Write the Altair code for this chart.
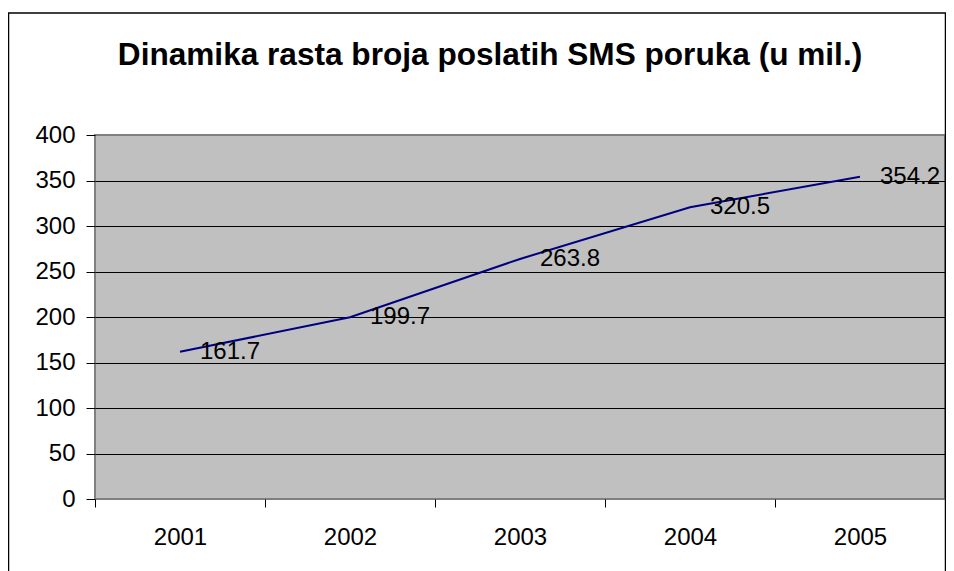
import altair as alt
import pandas as pd

years = [2001, 2002, 2003, 2004, 2005]
sms = [161.7, 199.7, 263.8, 320.5, 354.2]
point_labels = ["161.7", "199.7", "263.8", "320.5", "354.2"]
y_ticks = [0, 50, 100, 150, 200, 250, 300, 350, 400]
x_bounds = [2000.5, 2001.5, 2002.5, 2003.5, 2004.5, 2005.5]
title_text = "Dinamika rasta broja poslatih SMS poruka (u mil.)"

FONT = "Liberation Sans"
W, H = 850, 364

df = pd.DataFrame({"year": years, "sms": sms, "label": point_labels})

x_enc = alt.X(
    "year:Q",
    scale=alt.Scale(domain=[x_bounds[0], x_bounds[-1]], nice=False, zero=False),
    axis=alt.Axis(
        values=x_bounds,
        labelExpr="datum.value < 2005 ? '' + (datum.value + 0.5) : ''",
        labelOffset=W / len(years) / 2,
        tickSize=8,
        tickColor="black",
        domain=False,
        grid=False,
        labelFont=FONT,
        labelFontSize=24,
        labelColor="black",
        labelPadding=18,
        labelOverlap=False,
        labelFlush=False,
        title=None,
    ),
)
y_enc = alt.Y(
    "sms:Q",
    scale=alt.Scale(domain=[0, 400], nice=False),
    axis=alt.Axis(
        values=y_ticks,
        grid=True,
        gridColor="black",
        gridWidth=1,
        gridOpacity={"condition": {"test": "datum.value == 0 || datum.value == 400", "value": 0}, "value": 1},
        domain=False,
        tickColor="black",
        tickSize=9,
        labelFont=FONT,
        labelFontSize=24,
        labelColor="black",
        labelPadding=11,
        labelFlush=False,
        title=None,
    ),
)

base = alt.Chart(df).encode(x=x_enc, y=y_enc)
line = base.mark_line(color="#000080", strokeWidth=2)
text = base.mark_text(align="left", baseline="middle", dx=20, fontSize=24, font=FONT, color="black").encode(text="label:N")

frame = alt.Chart(pd.DataFrame({"k": [0]})).mark_rect(
    fillOpacity=0, stroke="black", strokeWidth=1.5
).encode(x=alt.value(-86.5), x2=alt.value(850.5), y=alt.value(-122), y2=alt.value(470))

chart = (
    alt.layer(line, text, frame)
    .properties(
        width=W,
        height=H,
        autosize="none",
        padding={"left": 87, "top": 127, "right": 1, "bottom": 72},
        title=alt.TitleParams(
            title_text,
            font=FONT,
            fontSize=31.6,
            fontWeight="bold",
            color="black",
            anchor="middle",
            frame="group",
            baseline="alphabetic",
            dx=-30,
            offset=-84.5,
        ),
        background="white",
    )
    .configure_view(fill="#C0C0C0", stroke="#808080", strokeWidth=2)
)

chart.save("out.html", embed_options={"renderer": "svg", "actions": False})
